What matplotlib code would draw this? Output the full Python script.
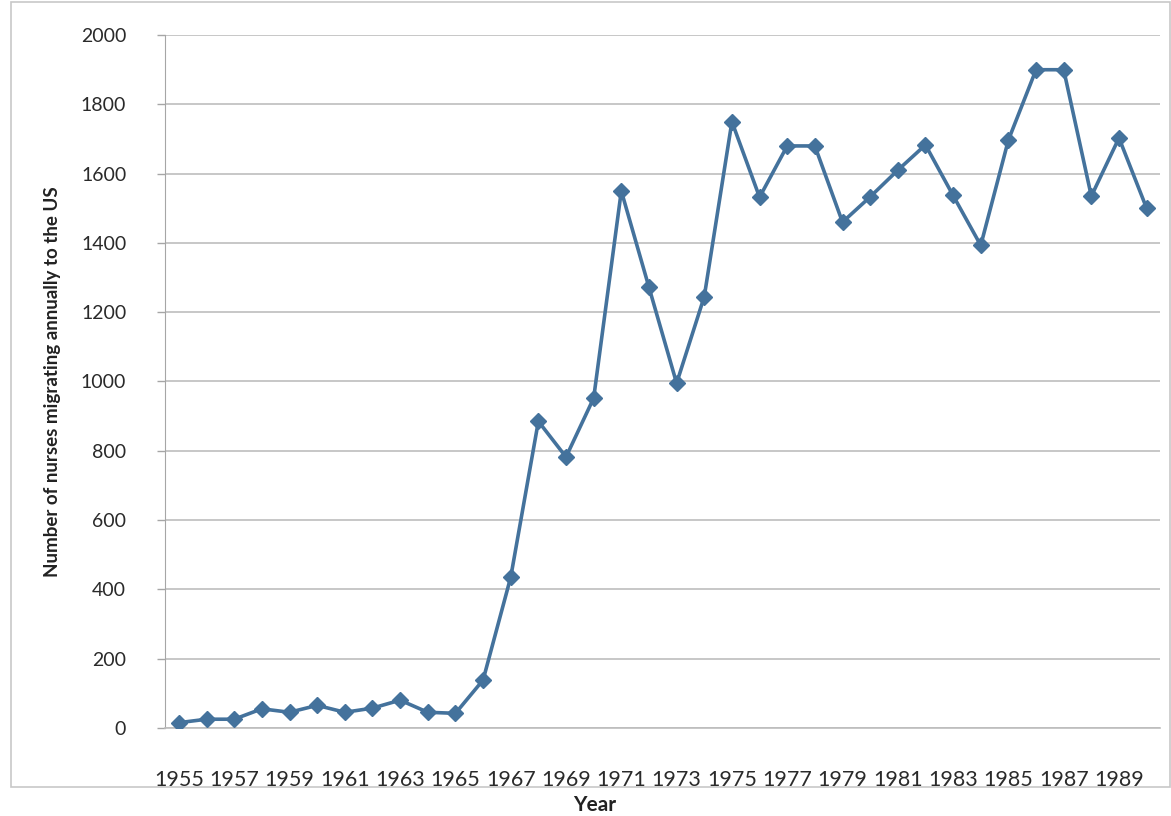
import numpy as np
import matplotlib.pyplot as plt
from matplotlib.patches import Rectangle

# Annual nurse migration to the US
years = list(range(1955, 1991))
nurses = [15, 25, 25, 55, 45, 65, 45, 57, 80, 45, 42,
          138, 435, 885, 782, 952, 1550, 1272, 995, 1245,
          1750, 1532, 1680, 1680, 1460, 1533, 1610, 1683,
          1537, 1393, 1697, 1900, 1900, 1535, 1703, 1500]
tick_years = [str(y) for y in range(1955, 1990, 2)]

plt.rcParams['font.family'] = ['Lato', 'DejaVu Sans']

fig = plt.figure(figsize=(11.71, 8.16), dpi=100)
ax = fig.add_axes([0.141, 0.108, 0.850, 0.849])

# outer chart frame
fig.patches.append(Rectangle((0.009, 0.036), 0.99, 0.962, transform=fig.transFigure,
                             fill=False, edgecolor='#c8c8c8', linewidth=1.2))

x = np.arange(len(years))
ax.plot(x, nurses, color='#44729c', linewidth=2.6, marker='D', markersize=8,
        markerfacecolor='#44729c', markeredgecolor='#44729c', zorder=3)

ax.set_xlim(-0.5, len(years) - 0.5)
ax.set_ylim(0, 2000)
ax.set_yticks(range(0, 2001, 200))
ax.set_xticks(x[::2])
ax.set_xticklabels(tick_years, fontsize=15.5, color='#2a2a2a')
ax.tick_params(axis='x', length=0, pad=30)
ax.tick_params(axis='y', length=6, width=1, color='#a6a6a6', labelsize=14,
               labelcolor='#2a2a2a', pad=22)

ax.grid(axis='y', color='#bdbdbd', linewidth=1.2)
ax.set_axisbelow(True)
for side in ['top', 'right']:
    ax.spines[side].set_visible(False)
ax.spines['left'].set_color('#a6a6a6')
ax.spines['bottom'].set_color('#bdbdbd')
ax.spines['bottom'].set_linewidth(1.2)

ax.set_xlabel('Year', fontsize=15, fontweight='bold', color='#222222',
              labelpad=4, x=0.432)
ax.set_ylabel('Number of nurses migrating annually to the US', fontsize=13.5,
              fontweight='bold', color='#222222', labelpad=14)

fig.savefig('out.png', dpi=100)
